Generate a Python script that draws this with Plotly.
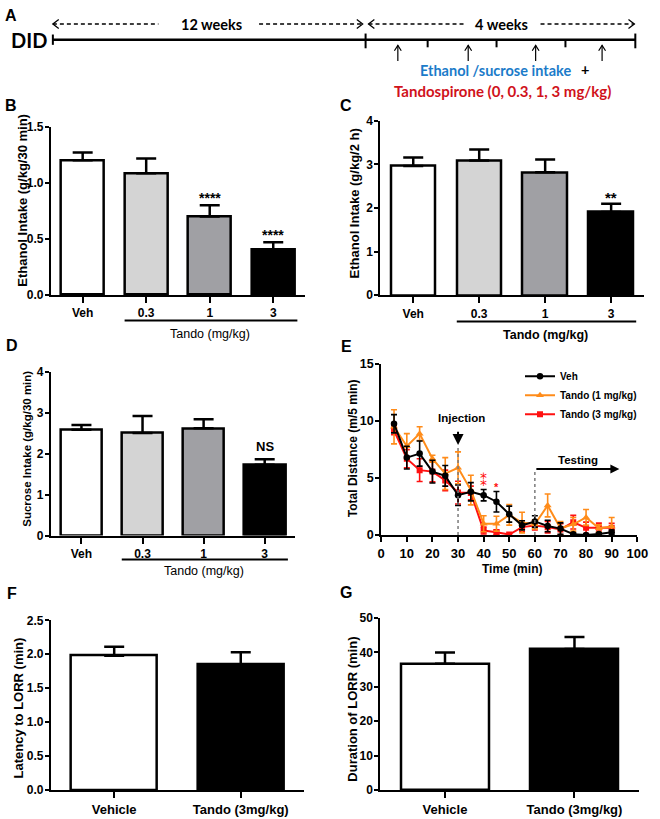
import plotly.graph_objects as go

W, H = 660, 819
FONT = "Liberation Sans"
FONT_A = "Lato"

# ---------------- data ----------------
doses = ['Veh', '0.3', '1', '3']
ethanol_30 = [1.20, 1.085, 0.70, 0.405]
ethanol_30_sem = [0.07, 0.13, 0.10, 0.065]
ethanol_30_sig = ['', '', '****', '****']

ethanol_2h = [2.96, 3.09, 2.82, 1.91]
ethanol_2h_sem = [0.20, 0.25, 0.29, 0.19]
ethanol_2h_sig = ['', '', '', '**']

sucrose_30 = [2.58, 2.50, 2.62, 1.73]
sucrose_30_sem = [0.12, 0.42, 0.22, 0.13]
sucrose_30_sig = ['', '', '', 'NS']

time_min = [5, 10, 15, 20, 25, 30, 35, 40, 45, 50, 55, 60, 65, 70, 75, 80, 85, 90]
veh_dist = [9.77, 6.8, 7.15, 5.57, 5.2, 3.5, 3.8, 3.5, 2.93, 1.84, 0.86, 1.2, 0.8, 0.57, 0.08, 0.0, 0.1, 0.25]
veh_sem = [0.8, 1.0, 1.1, 1.0, 0.9, 0.9, 0.8, 0.5, 0.9, 0.7, 0.4, 0.5, 0.5, 0.5, 0.1, 0.1, 0.1, 0.2]
tando1_dist = [9.5, 7.8, 8.9, 6.7, 5.4, 5.9, 3.95, 1.0, 1.0, 1.78, 1.1, 0.95, 2.6, 0.6, 0.95, 1.55, 0.6, 0.75]
tando1_sem = [1.5, 1.1, 0.6, 0.3, 1.4, 1.4, 1.3, 0.7, 0.65, 0.9, 0.9, 0.4, 1.0, 0.6, 0.6, 0.7, 0.3, 0.8]
tando3_dist = [9.2, 6.7, 5.7, 5.57, 4.8, 3.73, 3.7, 0.4, 0.26, 0.05, 0.7, 0.85, 0.7, 0.5, 1.13, 0.64, 0.65, 0.64]
tando3_sem = [0.4, 0.8, 1.0, 0.9, 0.9, 1.0, 0.6, 0.3, 0.2, 0.1, 0.4, 0.4, 0.5, 0.5, 0.6, 0.5, 0.4, 0.4]
e_sig = {40: '⁑', 45: '*'}   # Veh vs Tando (3 mg/kg)
injection_time = 30
testing_start = 60
testing_end = 93

lorr_groups = ['Vehicle', 'Tando (3mg/kg)']
lorr_latency = [1.98, 1.85]
lorr_latency_sem = [0.13, 0.18]
lorr_duration = [36.7, 41.0]
lorr_duration_sem = [3.3, 3.5]

# ---------------- styles ----------------
bar_colors4 = ['white', '#D4D4D4', '#A0A0A4', 'black']
bar_colors2 = ['white', 'black']
ORANGE = '#FF8C1A'
RED = '#FF1010'


def px(x):
    return x / W


def py(y):
    return 1 - y / H


def dom_x(a, b):
    return [px(a), px(b)]


def dom_y(top, bottom):
    return [py(bottom), py(top)]


fig = go.Figure()
shapes = []
anns = []


def ann(text, x, y, size=12, color='black', bold=True, family=FONT, angle=0,
        xanchor='center', yanchor='middle', xref='paper', yref='paper', **kw):
    if xref == 'paper':
        x = px(x)
    if yref == 'paper':
        y = py(y)
    anns.append(dict(text=text, x=x, y=y, xref=xref, yref=yref, showarrow=False,
                     textangle=angle, xanchor=xanchor, yanchor=yanchor,
                     font=dict(family=family, size=size, color=color,
                               weight='bold' if bold else 'normal'), **kw))


def pline(x0, y0, x1, y1, w=2.0, color='black', dash=None):
    ln = dict(color=color, width=w)
    if dash:
        ln['dash'] = dash
    shapes.append(dict(type='line', xref='paper', yref='paper',
                       x0=px(x0), y0=py(y0), x1=px(x1), y1=py(y1), line=ln))


def ppath(pts, w=1.5, color='black'):
    d = 'M ' + ' L '.join(f'{px(a):.5f},{py(b):.5f}' for a, b in pts)
    shapes.append(dict(type='path', xref='paper', yref='paper', path=d,
                       line=dict(color=color, width=w)))


# ---------------- axis helpers ----------------
def tickfont(size=12):
    return dict(family=FONT, size=size, color='black', weight='bold')


def cat_xaxis(domain, anchor, n, ticklen=6, size=12):
    return dict(domain=domain, anchor=anchor, type='category', range=[-0.5, n - 0.5],
                showline=True, linecolor='black', linewidth=2, ticks='outside',
                ticklen=ticklen, tickwidth=2, tickcolor='black', showgrid=False,
                zeroline=False, tickfont=tickfont(size), fixedrange=True)


def num_yaxis(domain, anchor, rng, dtick, fmt=None, size=12):
    d = dict(domain=domain, anchor=anchor, range=rng, dtick=dtick, tick0=0,
             showline=True, linecolor='black', linewidth=2, ticks='outside',
             ticklen=4, tickwidth=2, tickcolor='black', showgrid=False,
             zeroline=False, tickfont=tickfont(size), fixedrange=True,
             ticklabelstandoff=-1)
    if fmt:
        d['tickformat'] = fmt
    return d


def bar_panel(xa, ya, cats, vals, sems, colors, cap=10):
    fig.add_trace(go.Bar(
        x=cats, y=vals, xaxis=xa, yaxis=ya, width=0.68,
        marker=dict(color=colors, line=dict(color='black', width=2.5)),
        error_y=dict(type='data', array=sems, arrayminus=[0] * len(sems),
                     symmetric=False, color='black', thickness=2.5, width=cap),
        showlegend=False, hoverinfo='skip'))


# ---------------- Panels B, C, D, F, G ----------------
bar_panel('x', 'y', doses, ethanol_30, ethanol_30_sem, bar_colors4)
bar_panel('x2', 'y2', doses, ethanol_2h, ethanol_2h_sem, bar_colors4)
bar_panel('x3', 'y3', doses, sucrose_30, sucrose_30_sem, bar_colors4)
bar_panel('x5', 'y5', lorr_groups, lorr_latency, lorr_latency_sem, bar_colors2)
bar_panel('x6', 'y6', lorr_groups, lorr_duration, lorr_duration_sem, bar_colors2)

# ---------------- Panel E ----------------
series_E = [
    ('Tando (3 mg/kg)', tando3_dist, tando3_sem, RED, 'square', 6),
    ('Tando (1 mg/kg)', tando1_dist, tando1_sem, ORANGE, 'triangle-up', 7),
    ('Veh', veh_dist, veh_sem, 'black', 'circle', 6.5),
]
for name, ys, es, col, sym, sz in series_E:
    fig.add_trace(go.Scatter(
        x=time_min, y=ys, xaxis='x4', yaxis='y4', name=name, mode='lines+markers',
        line=dict(color=col, width=2), marker=dict(color=col, symbol=sym, size=sz),
        error_y=dict(type='data', array=es, color=col, thickness=1.6, width=3),
        hoverinfo='skip'))

# significance markers (x given as category index)
for i, s in enumerate(ethanol_30_sig):
    if s:
        ann(s, i, ethanol_30[i] + ethanol_30_sem[i], size=14, xref='x', yref='y',
            yanchor='bottom', yshift=-3)
for i, s in enumerate(ethanol_2h_sig):
    if s:
        ann(s, i, ethanol_2h[i] + ethanol_2h_sem[i], size=15, xref='x2', yref='y2',
            yanchor='bottom', yshift=-4)
for i, s in enumerate(sucrose_30_sig):
    if s:
        ann(s, i, sucrose_30[i] + sucrose_30_sem[i], size=13, xref='x3', yref='y3',
            yanchor='bottom', yshift=3)

# red stars in E (Veh vs Tando 3 mg/kg)
for t, s in e_sig.items():
    idx = time_min.index(t)
    if s == '⁑':
        ann(s, t, veh_dist[idx] + veh_sem[idx], size=14, color=RED, bold=False,
            family='DejaVu Sans', xref='x4', yref='y4', yanchor='middle', yshift=9)
    else:
        ann(s, t, veh_dist[idx] + veh_sem[idx], size=11, color=RED,
            xref='x4', yref='y4', yanchor='bottom', yshift=-3.5)

# injection / testing markers
shapes.append(dict(type='line', xref='x4', yref='y4', x0=injection_time, x1=injection_time,
                   y0=0, y1=7.9, line=dict(color='#7a7a7a', width=1.5, dash='dot')))
shapes.append(dict(type='line', xref='x4', yref='y4', x0=testing_start, x1=testing_start,
                   y0=0, y1=5.8, line=dict(color='#7a7a7a', width=1.5, dash='dot')))
anns.append(dict(x=injection_time, y=7.9, ax=injection_time, ay=9.2, xref='x4', yref='y4',
                 axref='x4', ayref='y4', showarrow=True, arrowhead=2, arrowsize=1.1,
                 arrowwidth=2, arrowcolor='black', text=''))
anns.append(dict(x=testing_end, y=5.8, ax=testing_start, ay=5.8, xref='x4', yref='y4',
                 axref='x4', ayref='y4', showarrow=True, arrowhead=2, arrowsize=0.9,
                 arrowwidth=2, arrowcolor='black', text=''))
ann('Injection', 31.3, 10.3, size=11.5, xref='x4', yref='y4')
ann('Testing', 76.8, 6.6, size=11.5, xref='x4', yref='y4')

# ---------------- underline groups ----------------
for xr, ytxt, yline, bold in [('x', 333, 319, False), ('x2', 334, 320, True), ('x3', 574, 562, False)]:
    shapes.append(dict(type='line', xref=xr, yref='paper', x0=0.66, x1=3.38,
                       y0=py(yline), y1=py(yline), line=dict(color='black', width=2)))
    anns.append(dict(text='Tando (mg/kg)', x=2, y=py(ytxt), xref=xr, yref='paper',
                     showarrow=False, xanchor='center', yanchor='middle',
                     font=dict(family=FONT, size=12.5, color='black',
                               weight='bold' if bold else 'normal')))

# ---------------- axis titles ----------------
ann('Ethanol Intake (g/kg/30 min)', 19.5, 197, size=13, angle=-90)
ann('Ethanol Intake (g/kg/2 h)', 359, 200, size=13, angle=-90)
ann('Sucrose Intake (g/kg/30 min)', 24, 449, size=11.5, angle=-90)
ann('Total Distance (m/5 min)', 357, 449, size=12, angle=-90)
ann('Latency to LORR (min)', 15, 713, size=13, angle=-90)
ann('Duration of LORR (min)', 357, 714, size=13, angle=-90)
ann('Time (min)', 520, 572, size=12)

# ---------------- panel letters ----------------
for letter, x, y in [('A', 7, 9), ('B', 7, 100), ('C', 350, 100), ('D', 8, 344),
                     ('E', 350, 345), ('F', 8, 597), ('G', 350, 596)]:
    ann(letter, x, y, size=16)

# ---------------- Panel A: timeline ----------------
YL = 33.3   # main timeline
YD = 17.3   # dashed duration arrows
ann('DID', 26, YL, size=20, family=FONT_A)
pline(50, YL, 646, YL, w=2.5)
pline(50, 28, 50, 38.5, w=2)
pline(370, 27, 370, 42, w=2)
pline(646, 27, 646, 42, w=2)
for xt in [433.5, 504, 574.5]:
    pline(xt, YL, xt, 41, w=2)
DASH = '4px,3px'
pline(50, YD, 158, YD, w=1.3, dash=DASH)
pline(261, YD, 367, YD, w=1.3, dash=DASH)
pline(373, YD, 471, YD, w=1.3, dash=DASH)
pline(549, YD, 645, YD, w=1.3, dash=DASH)
ppath([(56, YD - 4.5), (50, YD), (56, YD + 4.5)], w=1.3)
ppath([(361, YD - 4.5), (367, YD), (361, YD + 4.5)], w=1.3)
ppath([(379, YD - 4.5), (373, YD), (379, YD + 4.5)], w=1.3)
ppath([(639, YD - 4.5), (645, YD), (639, YD + 4.5)], w=1.3)
ann('12 weeks', 212.5, YD, size=14.5, family=FONT_A)
ann('4 weeks', 509, YD, size=14.5, family=FONT_A)
for xa in [403, 475, 544, 612]:
    pline(xa, 55, xa, 39, w=1.2)
    ppath([(xa - 3.5, 44.5), (xa, 39), (xa + 3.5, 44.5)], w=1.2)
ann('Ethanol /sucrose intake', 503, 65, size=14.5, color='#1B7BC9', family=FONT_A)
ann('+', 594, 64, size=14.5, family=FONT_A)
ann('Tandospirone (0, 0.3, 1, 3 mg/kg)', 510, 85, size=15, color='#D0121B', family=FONT_A)

# ---------------- layout ----------------
fig.update_layout(
    width=W, height=H, margin=dict(l=0, r=0, t=0, b=0),
    paper_bgcolor='white', plot_bgcolor='white',
    font=dict(family=FONT, color='black'),
    bargap=0,
    xaxis=cat_xaxis(dom_x(48, 308), 'y', 4),
    yaxis=num_yaxis(dom_y(121.7, 293), 'x', [0, 1.5], 0.5, '.1f'),
    xaxis2=cat_xaxis(dom_x(385, 655), 'y2', 4),
    yaxis2=num_yaxis(dom_y(115.7, 293.3), 'x2', [0, 4], 1),
    xaxis3=cat_xaxis(dom_x(48, 298), 'y3', 4),
    yaxis3=num_yaxis(dom_y(371, 537.7), 'x3', [0, 4], 1),
    xaxis4=dict(domain=dom_x(386, 648), anchor='y4', range=[0, 100], dtick=10, tick0=0,
                showline=True, linecolor='black', linewidth=2, ticks='outside', ticklen=5,
                tickwidth=2, tickcolor='black', showgrid=False, zeroline=False,
                tickfont=tickfont(13), fixedrange=True),
    yaxis4=num_yaxis(dom_y(363.3, 537.3), 'x4', [0, 15], 5, size=12.5),
    xaxis5=cat_xaxis(dom_x(48, 307), 'y5', 2, size=13),
    yaxis5=num_yaxis(dom_y(624, 796.7), 'x5', [0, 2.5], 0.5, '.1f'),
    xaxis6=cat_xaxis(dom_x(385, 650), 'y6', 2, size=13),
    yaxis6=num_yaxis(dom_y(621.7, 796.7), 'x6', [0, 50], 10),
    legend=dict(x=px(528), y=py(361), xanchor='left', yanchor='top',
                traceorder='reversed', bgcolor='rgba(0,0,0,0)',
                font=dict(family=FONT, size=10, color='black', weight='bold'),
                itemwidth=30, tracegroupgap=0),
    shapes=shapes, annotations=anns,
)

fig.write_html("out.html", config={'displayModeBar': False},
               post_script="document.body.style.margin='0px';document.body.style.overflow='hidden';")
